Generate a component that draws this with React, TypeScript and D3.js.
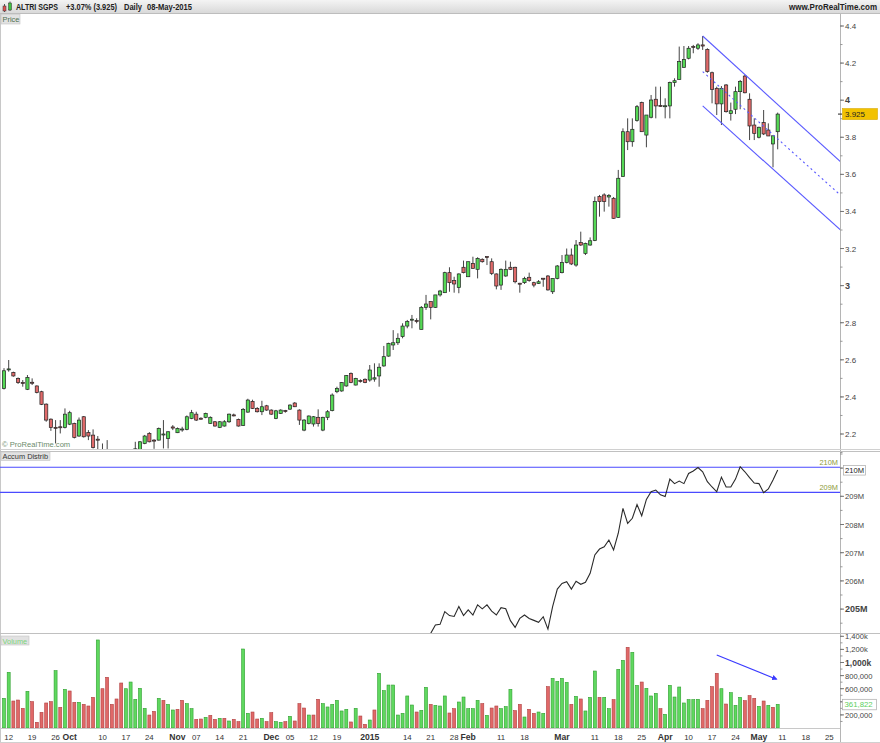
import React from 'react';
import * as d3 from 'd3';

// ---- data (daily bars, 11-Sep-2014 .. 08-May-2015) ----
const FIRST_DAY = '2014-09-11';
const LAST_AXIS_DAY = '2015-05-29';
const HOLIDAYS = ['2014-12-25', '2014-12-26', '2015-01-01', '2015-04-03', '2015-04-06', '2015-05-01'];

const OPEN = [
  2.446, 2.549, 2.532, 2.5, 2.478, 2.441, 2.479, 2.459, 2.428, 2.361,
  2.28, 2.236, 2.239, 2.235, 2.253, 2.257, 2.189, 2.293, 2.208, 2.194,
  2.172, 2.11, 2.1, 2.09, 2.07, 2.06, 2.03, 2.06, 2.1, 2.11,
  2.149, 2.203, 2.167, 2.167, 2.198, 2.176, 2.238, 2.207, 2.225, 2.225,
  2.284, 2.307, 2.285, 2.29, 2.257, 2.266, 2.235, 2.243, 2.266, 2.303,
  2.279, 2.246, 2.318, 2.376, 2.338, 2.32, 2.352, 2.329, 2.284, 2.311,
  2.326, 2.334, 2.367, 2.329, 2.221, 2.257, 2.254, 2.29, 2.221, 2.29,
  2.326, 2.428, 2.432, 2.459, 2.527, 2.464, 2.488, 2.495, 2.491, 2.496,
  2.513, 2.567, 2.62, 2.68, 2.692, 2.725, 2.782, 2.817, 2.812, 2.764,
  2.883, 2.914, 2.883, 2.95, 2.962, 3.07, 3.027, 2.99, 3.099, 3.048,
  3.12, 3.088, 3.142, 3.157, 3.129, 3.063, 3.003, 3.052, 3.099, 3.099,
  3.013, 3.016, 3.045, 3.016, 3.012, 3.04, 3.052, 2.967, 3.039, 3.07,
  3.124, 3.165, 3.111, 3.232, 3.174, 3.219, 3.243, 3.48, 3.489, 3.478,
  3.471, 3.368, 3.588, 3.83, 3.776, 3.89, 3.987, 3.812, 3.908, 4.005,
  3.972, 3.969, 3.969, 4.095, 4.112, 4.177, 4.226, 4.29, 4.28, 4.298,
  4.274, 4.148, 4.064, 3.98, 4.082, 3.929, 3.951, 4.046, 4.13, 4.005,
  3.866, 3.8, 3.879, 3.839, 3.764, 3.83,
];
const HIGH = [
  2.555, 2.599, 2.536, 2.505, 2.491, 2.518, 2.5, 2.462, 2.433, 2.365,
  2.284, 2.275, 2.275, 2.338, 2.325, 2.261, 2.289, 2.297, 2.221, 2.225,
  2.189, 2.149, 2.167, 2.11, 2.1, 2.08, 2.08, 2.11, 2.158, 2.162,
  2.195, 2.21, 2.172, 2.235, 2.275, 2.215, 2.248, 2.235, 2.239, 2.3,
  2.33, 2.32, 2.29, 2.315, 2.295, 2.27, 2.27, 2.275, 2.31, 2.31,
  2.283, 2.34, 2.39, 2.385, 2.345, 2.379, 2.357, 2.333, 2.33, 2.333,
  2.33, 2.36, 2.372, 2.333, 2.28, 2.3, 2.297, 2.333, 2.293, 2.329,
  2.419, 2.455, 2.48, 2.518, 2.532, 2.503, 2.495, 2.5, 2.572, 2.581,
  2.581, 2.675, 2.692, 2.76, 2.743, 2.797, 2.815, 2.842, 2.824, 2.89,
  2.95, 2.914, 2.95, 2.977, 3.075, 3.099, 3.048, 3.066, 3.135, 3.129,
  3.156, 3.153, 3.147, 3.157, 3.147, 3.066, 3.093, 3.135, 3.129, 3.102,
  3.015, 3.048, 3.07, 3.021, 3.03, 3.04, 3.057, 3.039, 3.111, 3.165,
  3.2, 3.2, 3.246, 3.291, 3.232, 3.26, 3.48, 3.489, 3.498, 3.494,
  3.478, 3.624, 3.848, 3.902, 3.902, 3.974, 3.992, 3.92, 4.028, 4.073,
  4.073, 4.01, 4.1, 4.118, 4.289, 4.292, 4.292, 4.298, 4.307, 4.346,
  4.28, 4.154, 4.073, 4.076, 4.087, 3.987, 4.073, 4.109, 4.136, 4.037,
  3.902, 3.857, 3.947, 3.875, 3.807, 3.933,
];
const LOW = [
  2.44, 2.536, 2.509, 2.47, 2.455, 2.437, 2.464, 2.419, 2.356, 2.266,
  2.217, 2.149, 2.203, 2.23, 2.248, 2.176, 2.185, 2.181, 2.167, 2.122,
  2.1, 2.08, 2.07, 2.05, 2.04, 2.01, 2.02, 2.05, 2.08, 2.1,
  2.145, 2.155, 2.12, 2.165, 2.122, 2.122, 2.221, 2.205, 2.212, 2.22,
  2.28, 2.27, 2.278, 2.285, 2.255, 2.24, 2.232, 2.24, 2.26, 2.295,
  2.24, 2.243, 2.315, 2.335, 2.316, 2.302, 2.325, 2.303, 2.28, 2.308,
  2.315, 2.33, 2.345, 2.249, 2.215, 2.252, 2.24, 2.24, 2.215, 2.275,
  2.322, 2.42, 2.428, 2.455, 2.474, 2.462, 2.477, 2.474, 2.482, 2.482,
  2.455, 2.563, 2.617, 2.653, 2.68, 2.716, 2.77, 2.77, 2.797, 2.764,
  2.869, 2.818, 2.88, 2.941, 2.96, 2.967, 2.962, 2.959, 3.066, 3.048,
  3.093, 3.039, 3.124, 3.111, 3.057, 2.98, 2.977, 3.048, 3.084, 3.012,
  2.962, 3.009, 3.021, 2.991, 3.009, 2.994, 2.973, 2.955, 3.034, 3.066,
  3.12, 3.111, 3.102, 3.214, 3.165, 3.215, 3.24, 3.372, 3.399, 3.426,
  3.36, 3.365, 3.588, 3.731, 3.749, 3.884, 3.83, 3.746, 3.902, 3.902,
  3.965, 3.902, 3.902, 4.073, 4.112, 4.177, 4.22, 4.253, 4.271, 4.271,
  4.148, 3.983, 3.92, 3.866, 3.933, 3.89, 3.925, 3.951, 4.037, 3.785,
  3.785, 3.794, 3.812, 3.807, 3.638, 3.735,
];
const CLOSE = [
  2.541, 2.551, 2.513, 2.477, 2.476, 2.505, 2.477, 2.424, 2.36, 2.275,
  2.235, 2.234, 2.237, 2.307, 2.315, 2.181, 2.275, 2.185, 2.189, 2.127,
  2.17, 2.1, 2.11, 2.07, 2.06, 2.03, 2.07, 2.1, 2.12, 2.158,
  2.189, 2.158, 2.165, 2.23, 2.2, 2.212, 2.232, 2.23, 2.227, 2.293,
  2.315, 2.275, 2.284, 2.311, 2.29, 2.243, 2.266, 2.266, 2.307, 2.3,
  2.243, 2.333, 2.383, 2.338, 2.32, 2.347, 2.329, 2.307, 2.325, 2.329,
  2.325, 2.356, 2.347, 2.275, 2.275, 2.297, 2.293, 2.257, 2.29, 2.32,
  2.41, 2.446, 2.477, 2.515, 2.477, 2.5, 2.487, 2.477, 2.545, 2.503,
  2.56, 2.617, 2.689, 2.692, 2.716, 2.782, 2.806, 2.819, 2.81, 2.883,
  2.901, 2.883, 2.95, 2.971, 3.07, 3.016, 3.009, 3.063, 3.07, 3.129,
  3.093, 3.147, 3.129, 3.155, 3.066, 2.998, 3.088, 3.088, 3.088, 3.021,
  3.012, 3.039, 3.027, 3.003, 3.021, 3.039, 2.977, 3.039, 3.106, 3.124,
  3.165, 3.117, 3.219, 3.219, 3.228, 3.242, 3.453, 3.453, 3.453, 3.486,
  3.363, 3.579, 3.83, 3.776, 3.843, 3.965, 3.83, 3.92, 4.001, 3.969,
  3.968, 3.97, 4.095, 4.105, 4.208, 4.22, 4.28, 4.289, 4.298, 4.292,
  4.154, 4.058, 3.98, 4.064, 3.938, 3.943, 4.046, 4.1, 4.04, 3.861,
  3.821, 3.854, 3.818, 3.807, 3.808, 3.925,
];

// volume in thousands, and bar colour (G up / R down) as drawn
const VOLUME_K = [
  453, 850, 412, 427, 300, 560, 402, 87, 239, 382,
  402, 875, 316, 590, 565, 392, 392, 361, 336, 468,
  1344, 600, 774, 361, 443, 687, 600, 702, 438, 606,
  300, 198, 254, 453, 422, 361, 275, 285, 422, 372,
  295, 132, 137, 163, 193, 132, 148, 148, 107, 132,
  97, 1206, 224, 244, 137, 148, 97, 234, 97, 87,
  97, 178, 107, 372, 305, 198, 198, 438, 372, 321,
  361, 422, 260, 285, 92, 300, 183, 56, 122, 275,
  835, 570, 656, 656, 198, 224, 489, 351, 244, 270,
  621, 361, 346, 336, 489, 229, 295, 397, 473, 295,
  295, 422, 372, 193, 305, 336, 295, 326, 590, 265,
  361, 168, 285, 224, 244, 224, 631, 758, 712, 758,
  697, 361, 483, 443, 260, 468, 870, 468, 468, 295,
  433, 896, 1033, 1232, 1155, 651, 702, 606, 489, 529,
  295, 209, 651, 473, 626, 382, 433, 433, 438, 295,
  422, 631, 835, 600, 366, 539, 346, 468, 417, 494,
  453, 331, 412, 346, 316, 361.822,
];
const VOLUME_DIR =
  'GGRRRGRRRR' + 'RGRGRRGRRR' + 'GRRRRRGGGG' + 'GRRGRGGRRG' + 'GRRGRRGRGR' +
  'RGGRRGRRGG' + 'RGRRRGRRGG' + 'GGGGRGRRGR' + 'GGGGGGGGRG' + 'GRGGGRRGGG' +
  'GGRGRRGGGR' + 'RGRRGGRGGG' + 'GRGRGGGRGG' + 'RGGRGGRGGG' + 'RGGGGGGGGR' +
  'RRRGRGGGRR' + 'RGRGRG';

// accumulation / distribution in millions, from bar 90 on (earlier values are below the panel)
const AD_START = 90;
const AD_M = [
  203.8, 204.14, 204.44, 204.46, 204.91, 204.77, 204.74, 205.09, 204.77, 204.97,
  204.79, 205.15, 205.01, 205.15, 204.93, 204.79, 205.05, 205.01, 204.59, 204.35,
  204.67, 204.79, 204.67, 204.6, 204.53, 204.73, 204.29, 205.09, 205.71, 205.91,
  205.97, 205.71, 205.99, 205.88, 205.95, 206.27, 206.92, 207.13, 207.21, 207.45,
  207.1, 207.69, 208.57, 208.04, 208.22, 208.71, 208.31, 208.89, 209.16, 209.22,
  209.05, 208.99, 209.61, 209.45, 209.54, 209.45, 209.81, 209.9, 210.02, 209.87,
  209.52, 209.33, 209.16, 209.68, 209.33, 209.33, 209.61, 210.05, 209.87, 209.66,
  209.47, 209.45, 209.13, 209.26, 209.58, 209.93,
];
const AD_LEVELS = [210.03, 209.14];
const AD_LEVEL_LABELS = ['210M', '209M'];

// trend channel drawn on the price chart: [startBar, startPrice, endBar, endPrice]
const CHANNEL_UPPER = [149, 4.346, 179, 3.654];
const CHANNEL_MID = [149, 4.154, 179, 3.474];
const CHANNEL_LOWER = [149, 3.969, 179, 3.286];
// arrow drawn on the volume chart: [bar, volume]
const VOL_ARROW = [[152, 1115000], [164.75, 745000]];

const TITLE_PARTS = ['ALTRI SGPS', '+3.07% (3.925)', 'Daily', '08-May-2015'];
const PRICE_TICKS = [2.2, 2.4, 2.6, 2.8, 3, 3.2, 3.4, 3.6, 3.8, 4, 4.2, 4.4];
// 210M tick label sits under the boxed last value, as in the original
const AD_TICKS = [205, 206, 207, 208, 209];
// 400,000 sits under the boxed last volume
const VOL_TICKS = [200000, 600000, 800000, 1000000, 1200000, 1400000];
const VOL_TICK_LABELS = ['200,000', '600,000', '800,000', '1,000k', '1,200k', '1,400k'];
const DATE_TICKS: [string, string][] = [
  ['2014-09-12', '12'], ['2014-09-19', '19'], ['2014-09-26', '26'], ['2014-10-01', 'Oct'],
  ['2014-10-10', '10'], ['2014-10-17', '17'], ['2014-10-24', '24'], ['2014-11-03', 'Nov'],
  ['2014-11-07', '07'], ['2014-11-14', '14'], ['2014-11-21', '21'], ['2014-12-01', 'Dec'],
  ['2014-12-05', '05'], ['2014-12-12', '12'], ['2014-12-19', '19'], ['2015-01-02', '2015'],
  ['2015-01-14', '14'], ['2015-01-21', '21'], ['2015-01-28', '28'], ['2015-02-02', 'Feb'],
  ['2015-02-11', '11'], ['2015-02-18', '18'], ['2015-03-02', 'Mar'], ['2015-03-11', '11'],
  ['2015-03-18', '18'], ['2015-03-25', '25'], ['2015-04-01', 'Apr'], ['2015-04-10', '10'],
  ['2015-04-17', '17'], ['2015-04-24', '24'], ['2015-05-04', 'May'], ['2015-05-11', '11'],
  ['2015-05-18', '18'], ['2015-05-25', '25'],
];
const BOLD_DATE_LABELS = ['Oct', 'Nov', 'Dec', '2015', 'Feb', 'Mar', 'Apr', 'May'];

// trading calendar (weekdays minus exchange holidays)
const tradingDays: string[] = [];
for (let d = new Date(FIRST_DAY + 'T00:00:00Z'); d <= new Date(LAST_AXIS_DAY + 'T00:00:00Z'); d.setUTCDate(d.getUTCDate() + 1)) {
  const s = d.toISOString().slice(0, 10);
  if (d.getUTCDay() !== 0 && d.getUTCDay() !== 6 && !HOLIDAYS.includes(s)) tradingDays.push(s);
}
const dayIndex = new Map(tradingDays.map((s, i) => [s, i]));

const FONT = '"Liberation Sans", Arial, Helvetica, sans-serif';
const W = 880;
const H = 743;
const PLOT_R = 840;
const GREEN = '#55d855';
const RED = '#e06a6a';

const x = d3.scaleLinear().domain([0, 165]).range([4, 777.7]);
const yP = d3.scaleLinear().domain([2.2, 4.4]).range([434, 26]);
const yAD = d3.scaleLinear().domain([205, 209]).range([609.1, 496.3]);
const yV = d3.scaleLinear().domain([0, 1000000]).range([728, 662.5]);

const fmtPrice = (v: number) => String(+v.toFixed(1));

// header text slots [x, width]
const TITLE_SLOTS = [[16, 42], [66, 51], [124, 18], [147, 45]];

const App: React.FC = () => {
  const adLine = d3
    .line<number>()
    .x((_, k) => x(AD_START + k))
    .y((v) => yAD(v));

  const channel = (c: number[], dash?: string) => (
    <line
      x1={x(c[0])}
      y1={yP(c[1])}
      x2={x(c[2])}
      y2={yP(c[3])}
      stroke="#5a5aff"
      strokeWidth={1.1}
      strokeDasharray={dash}
    />
  );

  const lastClose = CLOSE[CLOSE.length - 1];
  const lastVol = VOLUME_K[VOLUME_K.length - 1] * 1000;
  const lastAD = AD_M[AD_M.length - 1];

  const priceMinor = d3.range(2.1, 4.45, 0.1);
  const adMinor = d3.range(204.5, 210.6, 0.5);
  const volMinor = d3.range(100000, 1450000, 100000);

  return (
    <svg
      width={W}
      height={H}
      style={{ position: 'absolute', left: 0, top: 0, fontFamily: FONT }}
    >
      <defs>
        <linearGradient id="hdr" x1="0" y1="0" x2="0" y2="1">
          <stop offset="0" stopColor="#f4f4f4" />
          <stop offset="1" stopColor="#d9d9d9" />
        </linearGradient>
        <clipPath id="cp-price">
          <rect x={0} y={14} width={PLOT_R} height={435} />
        </clipPath>
        <clipPath id="cp-ad">
          <rect x={0} y={452} width={PLOT_R} height={181} />
        </clipPath>
        <clipPath id="cp-vol">
          <rect x={0} y={634} width={PLOT_R} height={94} />
        </clipPath>
        <marker id="arr" viewBox="0 0 10 10" refX="8" refY="5" markerWidth="5" markerHeight="5" orient="auto">
          <path d="M0,0 L10,5 L0,10 z" fill="#3a3aff" />
        </marker>
      </defs>
      <rect x={0} y={0} width={W} height={H} fill="#fff" />

      {/* header */}
      <rect x={0} y={0} width={W} height={13} fill="url(#hdr)" />
      <line x1={0} x2={W} y1={13.5} y2={13.5} stroke="#bdbdbd" />
      <line x1={4.5} x2={4.5} y1={4} y2={12} stroke="#333" strokeWidth={0.8} />
      <rect x={3} y={6} width={3} height={5} fill="#e05050" stroke="#333" strokeWidth={0.5} />
      <line x1={10} x2={10} y1={1.5} y2={11} stroke="#333" strokeWidth={0.8} />
      <rect x={8.5} y={3} width={3} height={7} fill="#40c040" stroke="#333" strokeWidth={0.5} />
      {TITLE_PARTS.map((t, k) => (
        <text
          key={t}
          x={TITLE_SLOTS[k][0]}
          y={10}
          fontSize={8.4}
          fontWeight="bold"
          fill="#222"
          textLength={TITLE_SLOTS[k][1]}
          lengthAdjust="spacingAndGlyphs"
        >
          {t}
        </text>
      ))}
      <text
        x={789}
        y={10}
        fontSize={8.4}
        fontWeight="bold"
        fill="#222"
        textLength={88}
        lengthAdjust="spacingAndGlyphs"
      >
        www.ProRealTime.com
      </text>

      {/* frame */}
      <line x1={0.5} x2={0.5} y1={14} y2={743} stroke="#c8c8c8" />
      <line x1={PLOT_R + 0.5} x2={PLOT_R + 0.5} y1={14} y2={743} stroke="#b5b5b5" />
      <line x1={0} x2={W} y1={449.5} y2={449.5} stroke="#d0d0d0" />
      <line x1={0} x2={W} y1={451.5} y2={451.5} stroke="#c0c0c0" />
      <line x1={0} x2={W} y1={633.5} y2={633.5} stroke="#c0c0c0" />
      <line x1={0} x2={PLOT_R} y1={728.5} y2={728.5} stroke="#c8c8c8" />
      <line x1={0} x2={W} y1={742.5} y2={742.5} stroke="#d0d0d0" />

      {/* ---------------- price panel ---------------- */}
      <g clipPath="url(#cp-price)">
        {OPEN.map((o, i) => {
          const c = CLOSE[i];
          const up = c >= o;
          const top = yP(Math.max(o, c));
          const h = Math.max(yP(Math.min(o, c)) - top, 1);
          return (
            <g key={i}>
              <line x1={x(i)} x2={x(i)} y1={yP(HIGH[i])} y2={yP(LOW[i])} stroke="#444" strokeWidth={1} />
              <rect x={x(i) - 1.6} y={top} width={3.2} height={h} fill={up ? GREEN : RED} stroke="#222" strokeWidth={0.7} />
            </g>
          );
        })}
        {channel(CHANNEL_UPPER)}
        {channel(CHANNEL_MID, '2,3')}
        {channel(CHANNEL_LOWER)}
      </g>
      <rect x={1} y={14.5} width={19} height={9.5} fill="#e2e2e2" stroke="#c4c4c4" strokeWidth={0.6} />
      <text x={2.5} y={22} fontSize={7.4} fill="#4f6f4f">Price</text>
      <text x={2} y={447} fontSize={7.6} fill="#6b8b6b">© ProRealTime.com</text>

      {/* price axis */}
      {priceMinor.map((v) => (
        <line key={v} x1={PLOT_R} x2={PLOT_R + 2.5} y1={yP(v)} y2={yP(v)} stroke="#999" />
      ))}
      {PRICE_TICKS.map((v) => {
        const bold = Number.isInteger(v);
        return (
          <g key={v}>
            <line x1={PLOT_R} x2={PLOT_R + 4} y1={yP(v)} y2={yP(v)} stroke="#777" />
            <text
              x={845}
              y={yP(v) + 3}
              fontSize={bold ? 9 : 8}
              fontWeight={bold ? 'bold' : 'normal'}
              fill="#444"
            >
              {fmtPrice(v)}
            </text>
          </g>
        );
      })}
      <line x1={PLOT_R - 2} x2={PLOT_R + 2} y1={yP(lastClose)} y2={yP(lastClose)} stroke="#222" />
      <rect x={842.5} y={yP(lastClose) - 5.5} width={35} height={11} fill="#f2c200" stroke="#d8a800" strokeWidth={0.6} />
      <text x={845} y={yP(lastClose) + 3} fontSize={8} fill="#222">{lastClose.toFixed(3)}</text>

      {/* ---------------- accumulation / distribution ---------------- */}
      <g clipPath="url(#cp-ad)">
        {AD_LEVELS.map((v) => (
          <line key={v} x1={0} x2={PLOT_R} y1={yAD(v)} y2={yAD(v)} stroke="#4a4aff" strokeWidth={1.2} />
        ))}
        <path d={adLine(AD_M) ?? ''} fill="none" stroke="#2a2a2a" strokeWidth={1.1} />
      </g>
      {AD_LEVELS.map((v, k) => (
        <text key={v} x={838} y={yAD(v) - 2.5} fontSize={7.4} fill="#8e9a3a" textAnchor="end">
          {AD_LEVEL_LABELS[k]}
        </text>
      ))}
      <rect x={1} y={452} width={49} height={8.5} fill="#e2e2e2" stroke="#c4c4c4" strokeWidth={0.6} />
      <text x={2.5} y={459} fontSize={7.4} fill="#333">Accum Distrib</text>
      {adMinor.map((v) => (
        <line key={v} x1={PLOT_R} x2={PLOT_R + 2.5} y1={yAD(v)} y2={yAD(v)} stroke="#999" />
      ))}
      {AD_TICKS.map((v) => {
        const bold = v === 205;
        return (
          <g key={v}>
            <line x1={PLOT_R} x2={PLOT_R + 4} y1={yAD(v)} y2={yAD(v)} stroke="#777" />
            <text
              x={845}
              y={yAD(v) + 3}
              fontSize={bold ? 9 : 7.6}
              fontWeight={bold ? 'bold' : 'normal'}
              fill="#444"
            >
              {`${v}M`}
            </text>
          </g>
        );
      })}
      <line x1={PLOT_R} x2={PLOT_R + 4} y1={yAD(210)} y2={yAD(210)} stroke="#777" />
      <rect x={843.5} y={yAD(lastAD) - 4.5} width={22} height={9.5} fill="#fff" stroke="#aaa" strokeWidth={0.7} />
      <text x={845} y={yAD(lastAD) + 3} fontSize={7.6} fill="#222">{`${Math.round(lastAD)}M`}</text>

      {/* ---------------- volume ---------------- */}
      <g clipPath="url(#cp-vol)">
        {VOLUME_K.map((v, i) => {
          const up = VOLUME_DIR[i] === 'G';
          const top = yV(v * 1000);
          return (
            <rect
              key={i}
              x={x(i) - 1.5}
              y={top}
              width={3}
              height={yV(0) - top}
              fill={up ? '#5fd85f' : '#e06868'}
              stroke={up ? '#2f9f2f' : '#b04040'}
              strokeWidth={0.6}
            />
          );
        })}
      </g>
      <line
        x1={x(VOL_ARROW[0][0])}
        y1={yV(VOL_ARROW[0][1])}
        x2={x(VOL_ARROW[1][0])}
        y2={yV(VOL_ARROW[1][1])}
        stroke="#3a3aff"
        strokeWidth={1.1}
        markerEnd="url(#arr)"
      />
      <rect x={1} y={636} width={28} height={9} fill="#e2e2e2" stroke="#c4c4c4" strokeWidth={0.6} />
      <text x={2.5} y={643.5} fontSize={7.4} fill="#7ad47a">Volume</text>
      {volMinor.map((v) => (
        <line key={v} x1={PLOT_R} x2={PLOT_R + 2.5} y1={yV(v)} y2={yV(v)} stroke="#999" />
      ))}
      {VOL_TICKS.map((v, k) => {
        const bold = v === 1000000;
        return (
          <g key={v}>
            <line x1={PLOT_R} x2={PLOT_R + 4} y1={yV(v)} y2={yV(v)} stroke="#777" />
            <text
              x={845}
              y={yV(v) + 3}
              fontSize={bold ? 8.6 : 7.6}
              fontWeight={bold ? 'bold' : 'normal'}
              fill="#444"
            >
              {VOL_TICK_LABELS[k]}
            </text>
          </g>
        );
      })}
      <line x1={PLOT_R} x2={PLOT_R + 4} y1={yV(400000)} y2={yV(400000)} stroke="#777" />
      <rect x={842.5} y={yV(lastVol) - 5} width={34} height={10.5} fill="#fff" stroke="#aaa" strokeWidth={0.7} />
      <text x={844.5} y={yV(lastVol) + 3} fontSize={7.8} fill="#5ccf5c">
        {d3.format(',')(Math.round(lastVol))}
      </text>

      {/* ---------------- date axis ---------------- */}
      {DATE_TICKS.map(([d, label]) => {
        const i = dayIndex.get(d) ?? 0;
        const bold = BOLD_DATE_LABELS.includes(label);
        return (
          <text
            key={d}
            x={x(i)}
            y={739.5}
            fontSize={bold ? 8.6 : 7.8}
            fontWeight={bold ? 'bold' : 'normal'}
            fill="#333"
            textAnchor="middle"
          >
            {label}
          </text>
        );
      })}
    </svg>
  );
};

export default App;
